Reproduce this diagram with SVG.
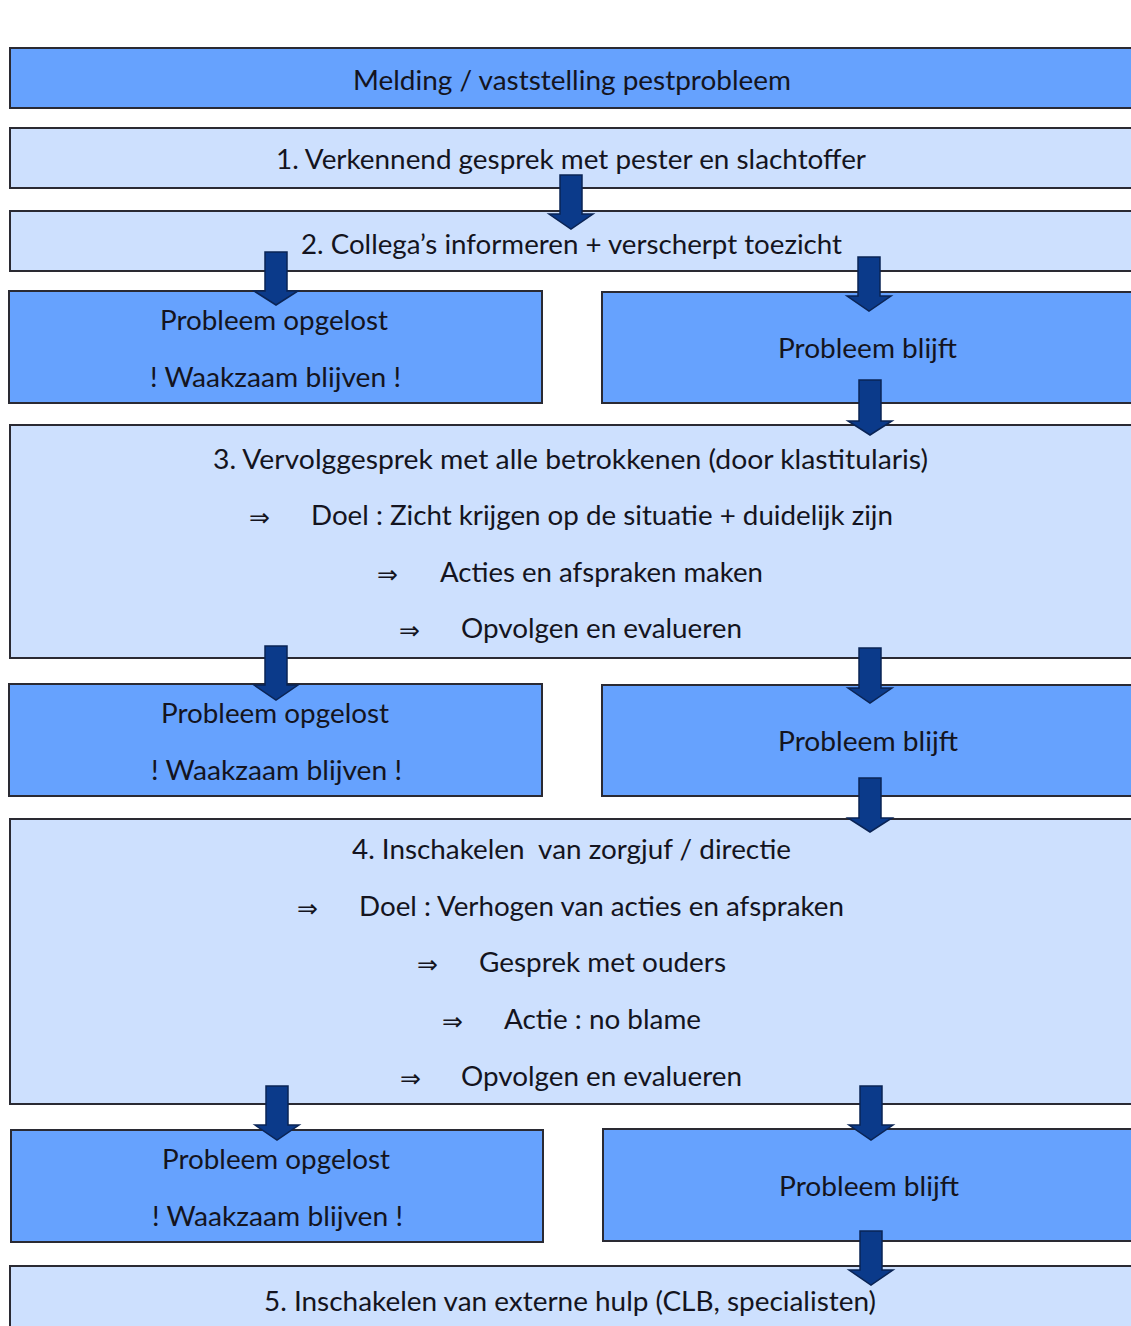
<svg xmlns="http://www.w3.org/2000/svg" width="1131" height="1326" viewBox="0 0 1131 1326">
<style>
.dark{fill:#66a2fe;stroke:#2a2a33;stroke-width:2}
.light{fill:#cde0fe;stroke:#2a2a33;stroke-width:2}
text{font-family:Lato,"Open Sans","Liberation Sans",sans-serif;font-size:26px;fill:#141420}
.sym{font-family:"DejaVu Sans",sans-serif;font-size:25px}
.arr{fill:#0b3a8a;stroke:#0a2455;stroke-width:1.5}
</style>
<rect width="1131" height="1326" fill="#ffffff"/>
<g id="n0"><rect class="dark" x="10" y="48" width="1140" height="60"/>
<text x="353" y="90" textLength="438" lengthAdjust="spacingAndGlyphs">Melding / vaststelling pestprobleem</text></g>
<g id="n1"><rect class="light" x="10" y="128" width="1140" height="60"/>
<text x="276" y="169" textLength="590" lengthAdjust="spacingAndGlyphs">1. Verkennend gesprek met pester en slachtoffer</text></g>
<g id="n2"><rect class="light" x="10" y="211" width="1140" height="60"/>
<text x="301" y="254" textLength="541" lengthAdjust="spacingAndGlyphs">2. Collega’s informeren + verscherpt toezicht</text></g>
<g id="n2a"><rect class="dark" x="9" y="291" width="533" height="112"/>
<text x="160" y="330" textLength="228" lengthAdjust="spacingAndGlyphs">Probleem opgelost</text>
<text x="150" y="387" textLength="251" lengthAdjust="spacingAndGlyphs">! Waakzaam blijven !</text></g>
<g id="n2b"><rect class="dark" x="602" y="292" width="548" height="111"/>
<text x="778" y="358" textLength="179" lengthAdjust="spacingAndGlyphs">Probleem blijft</text></g>
<g id="n3"><rect class="light" x="10" y="425" width="1140" height="233"/>
<text x="213" y="469" textLength="715" lengthAdjust="spacingAndGlyphs">3. Vervolggesprek met alle betrokkenen (door klastitularis)</text>
<text class="sym" x="249" y="526">⇒</text>
<text x="311" y="525" textLength="582" lengthAdjust="spacingAndGlyphs">Doel : Zicht krijgen op de situatie + duidelijk zijn</text>
<text class="sym" x="377" y="583">⇒</text>
<text x="440" y="582" textLength="323" lengthAdjust="spacingAndGlyphs">Acties en afspraken maken</text>
<text class="sym" x="399" y="639">⇒</text>
<text x="461" y="638" textLength="281" lengthAdjust="spacingAndGlyphs">Opvolgen en evalueren</text></g>
<g id="n3a"><rect class="dark" x="9" y="684" width="533" height="112"/>
<text x="161" y="723" textLength="228" lengthAdjust="spacingAndGlyphs">Probleem opgelost</text>
<text x="151" y="780" textLength="251" lengthAdjust="spacingAndGlyphs">! Waakzaam blijven !</text></g>
<g id="n3b"><rect class="dark" x="602" y="685" width="548" height="111"/>
<text x="778" y="751" textLength="180" lengthAdjust="spacingAndGlyphs">Probleem blijft</text></g>
<g id="n4"><rect class="light" x="10" y="819" width="1140" height="285"/>
<text x="352" y="859" textLength="439" lengthAdjust="spacingAndGlyphs" xml:space="preserve">4. Inschakelen  van zorgjuf / directie</text>
<text class="sym" x="297" y="917">⇒</text>
<text x="359" y="916" textLength="485" lengthAdjust="spacingAndGlyphs">Doel : Verhogen van acties en afspraken</text>
<text class="sym" x="417" y="973">⇒</text>
<text x="479" y="972" textLength="247" lengthAdjust="spacingAndGlyphs">Gesprek met ouders</text>
<text class="sym" x="442" y="1030">⇒</text>
<text x="504" y="1029" textLength="197" lengthAdjust="spacingAndGlyphs">Actie : no blame</text>
<text class="sym" x="400" y="1087">⇒</text>
<text x="461" y="1086" textLength="281" lengthAdjust="spacingAndGlyphs">Opvolgen en evalueren</text></g>
<g id="n4a"><rect class="dark" x="11" y="1130" width="532" height="112"/>
<text x="162" y="1169" textLength="228" lengthAdjust="spacingAndGlyphs">Probleem opgelost</text>
<text x="152" y="1226" textLength="251" lengthAdjust="spacingAndGlyphs">! Waakzaam blijven !</text></g>
<g id="n4b"><rect class="dark" x="603" y="1129" width="547" height="112"/>
<text x="779" y="1196" textLength="180" lengthAdjust="spacingAndGlyphs">Probleem blijft</text></g>
<g id="n5"><rect class="light" x="10" y="1266" width="1140" height="80"/>
<text x="264" y="1311" textLength="612" lengthAdjust="spacingAndGlyphs">5. Inschakelen van externe hulp (CLB, specialisten)</text></g>
<g id="connectors">
<path class="arr" d="M560,175H582V214H593L571,229L549,214H560Z"/>
<path class="arr" d="M265,252H287V291H298L276,305L254,291H265Z"/>
<path class="arr" d="M858,257H880V296H891L869,311L847,296H858Z"/>
<path class="arr" d="M859,380H881V421H892L870,435L848,421H859Z"/>
<path class="arr" d="M265,646H287V685H298L276,700L254,685H265Z"/>
<path class="arr" d="M859,648H881V688H892L870,703L848,688H859Z"/>
<path class="arr" d="M859,778H881V818H892L870,832L848,818H859Z"/>
<path class="arr" d="M266,1086H288V1125H299L277,1140L255,1125H266Z"/>
<path class="arr" d="M860,1086H882V1125H893L871,1140L849,1125H860Z"/>
<path class="arr" d="M860,1231H882V1270H893L871,1285L849,1270H860Z"/>
</g>
</svg>
